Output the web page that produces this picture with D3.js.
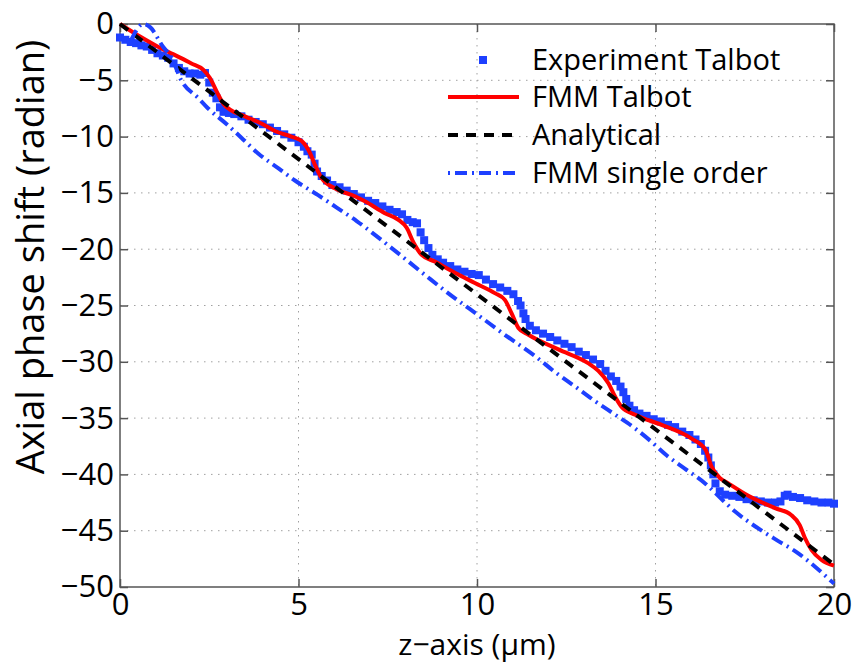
<!DOCTYPE html>
<html>
<head>
<meta charset="utf-8">
<script src="https://cdn.jsdelivr.net/npm/d3@7"></script>
<style>
  body { margin: 0; background: #fff; }
  svg { display: block; font-family: "Open Sans", sans-serif; }
</style>
</head>
<body>
<script>
// ---- data ----
const xTicks = [0, 5, 10, 15, 20];
const yTicks = [0, -5, -10, -15, -20, -25, -30, -35, -40, -45, -50];

// Experiment Talbot (blue squares)
const expZ = [0.00,0.15,0.30,0.45,0.60,0.75,0.90,1.05,1.20,1.35,1.50,1.65,1.80,1.95,2.10,2.25,2.38,2.50,2.60,2.70,
  2.80,2.90,3.05,3.20,3.40,3.60,3.80,4.00,4.20,4.40,4.60,4.80,5.00,5.15,5.25,5.37,5.45,5.52,5.65,5.80,
  5.95,6.15,6.35,6.55,6.75,6.95,7.15,7.35,7.55,7.75,7.90,8.05,8.20,8.32,8.42,8.52,8.64,8.75,8.90,9.05,
  9.25,9.45,9.65,9.85,10.05,10.25,10.45,10.65,10.85,11.02,11.15,11.22,11.30,11.36,11.48,11.65,11.85,12.05,12.25,12.45,
  12.65,12.85,13.05,13.25,13.45,13.60,13.75,13.90,14.02,14.10,14.18,14.27,14.40,14.55,14.75,14.95,15.15,15.35,15.55,15.75,
  15.95,16.12,16.27,16.39,16.48,16.55,16.62,16.68,16.80,16.95,17.15,17.35,17.55,17.75,17.95,18.15,18.35,18.50,18.62,18.70,
  18.85,19.05,19.25,19.45,19.65,19.85,20.00];
const expPhase = [-1.2,-1.4,-1.6,-1.7,-1.9,-2.0,-2.3,-2.6,-2.8,-3.0,-3.5,-3.9,-4.2,-4.4,-4.4,-4.5,-4.35,-5.2,-6.1,-6.6,
  -7.4,-7.8,-7.9,-8.0,-8.2,-8.5,-8.7,-8.9,-9.2,-9.5,-9.8,-10.1,-10.5,-10.9,-11.3,-11.6,-12.4,-13.1,-13.5,-13.9,
  -14.3,-14.5,-14.8,-15.1,-15.4,-15.7,-15.9,-16.2,-16.5,-16.7,-16.9,-17.4,-17.6,-17.7,-18.5,-19.2,-19.9,-20.5,-20.9,-21.2,
  -21.5,-21.8,-22.0,-22.2,-22.3,-22.7,-23.1,-23.4,-23.7,-24.0,-24.6,-25.0,-25.7,-26.2,-26.8,-27.2,-27.5,-27.8,-28.1,-28.4,
  -28.7,-29.1,-29.4,-29.8,-30.2,-30.8,-31.3,-31.7,-32.2,-32.7,-33.3,-33.9,-34.3,-34.6,-34.8,-35.1,-35.3,-35.6,-35.8,-36.2,
  -36.5,-36.9,-37.3,-37.9,-38.5,-39.2,-40.0,-40.8,-41.5,-41.8,-41.9,-42.0,-42.2,-42.3,-42.4,-42.5,-42.5,-42.4,-41.9,-41.8,
  -42.0,-42.1,-42.3,-42.4,-42.5,-42.5,-42.6];

// FMM Talbot (red solid)
const fmmZ = [0,0.5,1.0,1.5,2.0,2.33,2.52,2.71,2.9,3.08,3.5,4.0,4.34,4.8,5.09,5.32,5.46,5.65,6.02,6.58,
  6.86,7.42,7.8,8.03,8.22,8.45,8.82,9.38,9.94,10.5,10.78,10.97,11.16,11.44,12.28,13.1,13.4,13.68,13.87,14.05,
  14.43,15.17,16.0,16.4,16.57,16.8,17.04,17.6,18.35,18.8,19.04,19.18,19.37,19.65,20.0];
const fmmPhase = [0,-1.0,-1.9,-2.7,-3.5,-4.05,-4.8,-6.0,-7.1,-7.6,-8.2,-8.9,-9.5,-10.0,-10.4,-11.45,-12.5,-13.7,-14.6,-15.3,
  -15.75,-16.8,-17.4,-18.1,-19.4,-20.5,-21.1,-22.1,-23.0,-23.9,-24.5,-25.7,-27.0,-27.6,-28.9,-30.1,-30.8,-31.9,-33.1,-34.0,
  -34.7,-35.6,-36.8,-37.8,-39.3,-40.3,-40.8,-41.9,-43.0,-43.6,-44.5,-45.6,-46.7,-47.6,-48.1];

// Analytical (black dashed)
const anaZ = [0, 20];
const anaPhase = [0, -48];

// FMM single order (blue dash-dot)
const singleZ = [0.3,0.65,0.85,1.2,1.45,1.7,2.2,2.47,2.99,3.4,3.87,4.43,4.9,5.55,6.07,6.63,7.05,7.61,8.59,9.15,
  10.18,10.69,11.67,12.18,12.75,13.31,13.87,14.38,14.85,15.31,15.83,16.39,16.95,17.23,17.88,18.43,18.95,19.47,19.93,20.0];
const singlePhase = [-1.5,0,-0.3,-2.0,-3.0,-4.9,-6.6,-7.5,-8.9,-10.1,-11.5,-12.8,-13.9,-15.2,-16.3,-17.5,-18.5,-19.9,-22.4,-23.8,
  -26.2,-27.4,-29.6,-30.9,-32.2,-33.5,-34.7,-35.8,-37.0,-38.3,-39.5,-40.8,-42.5,-43.3,-44.8,-45.9,-46.9,-48.2,-49.5,-49.7];

const legendLabels = ["Experiment Talbot", "FMM Talbot", "Analytical", "FMM single order"];

// ---- layout ----
const W = 859, H = 666;
const mLeft = 120, mRight = 834, mTop = 24, mBottom = 587;
const blue = "#1e40ff";

const svg = d3.select("body").append("svg")
  .attr("width", W).attr("height", H);

svg.append("rect").attr("width", W).attr("height", H).attr("fill", "#fff");

const x = d3.scaleLinear().domain([0, 20]).range([mLeft, mRight]);
const y = d3.scaleLinear().domain([-50, 0]).range([mBottom, mTop]);

// grid (dotted)
const grid = svg.append("g").attr("stroke", "#a0a0a0").attr("stroke-width", 1)
  .attr("stroke-dasharray", "1.5,5.5");
grid.selectAll(".gx").data(xTicks.slice(1, -1)).enter().append("line")
  .attr("x1", d => x(d)).attr("x2", d => x(d))
  .attr("y1", mTop).attr("y2", mBottom);
grid.selectAll(".gy").data(yTicks.slice(1, -1)).enter().append("line")
  .attr("x1", mLeft).attr("x2", mRight)
  .attr("y1", d => y(d)).attr("y2", d => y(d));

// axes, ticks inward on all four sides
function styleAxis(g) {
  g.select(".domain").remove();
  g.selectAll(".tick line").attr("stroke", "#555").attr("stroke-width", 1.5);
  g.selectAll(".tick text").attr("fill", "#000").style("font-size", "31px")
    .style("font-family", "'Open Sans', sans-serif");
}
svg.append("g").attr("transform", `translate(0,${mBottom})`)
  .call(d3.axisBottom(x).tickValues(xTicks).tickSize(-8).tickPadding(6).tickFormat(d3.format("d")))
  .call(styleAxis);
svg.append("g").attr("transform", `translate(0,${mTop})`)
  .call(d3.axisTop(x).tickValues(xTicks).tickSize(-8).tickFormat(""))
  .call(styleAxis);
svg.append("g").attr("transform", `translate(${mLeft},0)`)
  .call(d3.axisLeft(y).tickValues(yTicks).tickSize(-8).tickPadding(6)
    .tickFormat(d => d < 0 ? "\u2212" + Math.abs(d) : d))
  .call(styleAxis);
svg.append("g").attr("transform", `translate(${mRight},0)`)
  .call(d3.axisRight(y).tickValues(yTicks).tickSize(-8).tickFormat(""))
  .call(styleAxis);

svg.append("rect")
  .attr("x", mLeft).attr("y", mTop)
  .attr("width", mRight - mLeft).attr("height", mBottom - mTop)
  .attr("fill", "none").attr("stroke", "#555").attr("stroke-width", 1.5);

// series
const plot = svg.append("g");
const sq = 8;

plot.selectAll("rect.exp").data(expZ).enter().append("rect")
  .attr("class", "exp")
  .attr("x", (d) => x(d) - sq / 2)
  .attr("y", (d, i) => y(expPhase[i]) - sq / 2)
  .attr("width", sq).attr("height", sq)
  .attr("fill", blue);

const line = d3.line().x(d => x(d[0])).y(d => y(d[1])).curve(d3.curveMonotoneX);
const straight = d3.line().x(d => x(d[0])).y(d => y(d[1]));

plot.append("path")
  .datum(fmmZ.map((z, i) => [z, fmmPhase[i]]))
  .attr("fill", "none").attr("stroke", "#ff0000").attr("stroke-width", 4)
  .attr("d", line);

plot.append("path")
  .datum(anaZ.map((z, i) => [z, anaPhase[i]]))
  .attr("fill", "none").attr("stroke", "#000").attr("stroke-width", 4)
  .attr("stroke-dasharray", "10,8")
  .attr("d", straight);

plot.append("path")
  .datum(singleZ.map((z, i) => [z, singlePhase[i]]))
  .attr("fill", "none").attr("stroke", blue).attr("stroke-width", 4)
  .attr("stroke-dasharray", "12,5,2,5")
  .attr("d", line);

// legend
const legY = [60, 97, 135, 173];
const lg = svg.append("g");
lg.append("rect").attr("x", 483 - sq / 2).attr("y", legY[0] - sq / 2)
  .attr("width", sq).attr("height", sq).attr("fill", blue);
lg.append("line").attr("x1", 448).attr("x2", 519).attr("y1", legY[1]).attr("y2", legY[1])
  .attr("stroke", "#ff0000").attr("stroke-width", 4);
lg.append("line").attr("x1", 448).attr("x2", 519).attr("y1", legY[2]).attr("y2", legY[2])
  .attr("stroke", "#000").attr("stroke-width", 4).attr("stroke-dasharray", "10,8");
lg.append("line").attr("x1", 448).attr("x2", 519).attr("y1", legY[3]).attr("y2", legY[3])
  .attr("stroke", blue).attr("stroke-width", 4).attr("stroke-dasharray", "2,5,12,5");
lg.selectAll("text").data(legendLabels).enter().append("text")
  .attr("x", 532).attr("y", (d, i) => legY[i]).attr("dy", "0.36em")
  .style("font-size", "29px").text(d => d);

// axis titles
svg.append("text")
  .attr("transform", `translate(44,257) rotate(-90)`)
  .attr("text-anchor", "middle").style("font-size", "38px")
  .text("Axial phase shift (radian)");
svg.append("text")
  .attr("x", (mLeft + mRight) / 2).attr("y", 655)
  .attr("text-anchor", "middle").style("font-size", "30px")
  .text("z\u2212axis (\u03bcm)");
</script>
</body>
</html>
